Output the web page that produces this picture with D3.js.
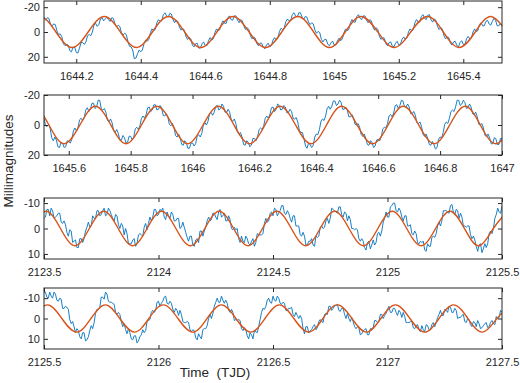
<!DOCTYPE html>
<html>
<head>
<meta charset="utf-8">
<script src="https://cdn.jsdelivr.net/npm/d3@7"></script>
<style>
body { margin: 0; background: #fff; }
text { font-family: "Liberation Sans", Arial, Helvetica, sans-serif; fill: #262626; }
.tick text { font-size: 11px; }
</style>
</head>
<body>
<script>
var w = 520,
    h = 383;

// observed light curve, regular cadence per panel (millimagnitudes)
var obs1Start = 1644.10, obs1Step = 0.005;
var obs1 = [-12,-9.5,-11.5,-11,-6.5,-4.5,-6.5,-6,-1,2,1.5,3.5,9.5,11,10,10.5,15,16,12.5,12,16.5,17,13,8.5,8.5,10,8,3,2,3,0,-5.5,-7,-4.5,-6,-10.5,-11.5,-9,-10.5,-12,
  -10,-8.5,-11.5,-11,-6.5,-4,-5.5,-4.5,0.5,2.5,1,2,7.5,11.5,12,14.5,21.5,21,17.5,14.5,16,14.5,9.5,6.5,7.5,6,0.5,-2.5,-1,-2,-7.5,-10,-8.5,-9,-14,-15.5,-13,-12,-15,-14.5,
  -10,-7.5,-9.5,-8.5,-4,-1.5,-3,-1.5,3.5,6,4.5,5.5,10.5,12,9.5,9,13,13,9.5,8,11,11,7,4.5,6.5,5.5,0.5,-2.5,-1,-2,-6.5,-9,-7,-7,-11.5,-13,-10,-9.5,-13,-13,
  -9.5,-7.5,-10,-9,-4.5,-2,-3.5,-2,3,5.5,4,5,9.5,11,9,9,12.5,13.5,10.5,9,12,11,6.5,4.5,6.5,5,-0.5,-3,-2,-3.5,-8.5,-10.5,-9,-9.5,-14,-15.5,-13,-12,-15.5,-15.5,
  -12,-10,-12.5,-12,-8,-6,-7.5,-6.5,-1.5,1,-0.5,0.5,6,8,6,6,10,11,8.5,7.5,10.5,10.5,7,5,7,5.5,0.5,-2.5,-1,-2,-7.5,-10,-8,-8,-12.5,-14,-11,-10,-13,-13,
  -9.5,-7.5,-10,-9,-4,-1.5,-3.5,-2,3.5,6,4.5,5,9.5,11,8.5,8,11.5,12,9,7.5,10.5,10,6,4,6,5,0,-2.5,-1,-2,-7.5,-10,-8,-8,-12.5,-14,-11,-10,-13.5,-14,
  -10,-8,-10.5,-9.5,-4.5,-2,-3.5,-2.5,3,5.5,4,4.5,9,10.5,8,7.5,11,12,8.5,7,10,10,5.5,3.5,5.5,5,0,-2.5,-0.5,-1,-6,-7.5,-5,-5,-8.5,-9.5,-6.5,-5.5,-8.5,-11,
  -9.5,-5,-5,-7,-4.5];

var obs2Start = 1645.52, obs2Step = 0.005;
var obs2 = [-4.5,0.5,1,-0.5,2.5,8.5,10.5,8,10,14.5,15,11.5,12,15,14.5,10.5,11,12,9.5,4,2,4,1.5,-3.5,-4.5,-3,-5,-10,-11.5,-9,-10.5,-14.5,-14.5,-11,-12,-16.5,-16.5,-11,-10,-11,
  -8.5,-3,-2,-4,-1.5,4,5,3,5.5,10,10,7,8.5,12,11.5,7.5,7.5,10,8,2.5,1.5,3,0.5,-4.5,-6,-4.5,-7,-11.5,-12,-9,-10,-13.5,-13.5,-10,-10.5,-13,-11.5,-6.5,-6,-7.5,
  -5.5,-0.5,0.5,-1,1.5,7,8,6,8.5,13,13.5,10.5,12,15.5,15.5,12,12,14,12.5,7.5,6.5,8,5.5,0,-1.5,0,-2.5,-7.5,-8.5,-6.5,-8.5,-12.5,-13,-10,-11,-14,-12.5,-8.5,-8.5,-10.5,
  -8.5,-3.5,-2.5,-4,-1,4.5,6,5,8,13,13.5,10.5,11.5,14.5,13.5,9,9,10.5,8,3,2,3,0.5,-4.5,-6,-4.5,-7,-11.5,-12,-9,-10.5,-14,-13,-10,-10.5,-13,-12,-8,-8.5,-10.5,
  -9,-4.5,-4,-5,-2,3.5,5,5,9,14,15.5,12,13,15,13.5,8,6,6.5,3,-2.5,-4,-3,-6,-11,-12.5,-10.5,-12.5,-16,-16,-13,-14,-16.5,-15,-10.5,-10.5,-12,-10,-5.5,-5.5,-7,
  -5,-0.5,0,-1,1.5,6.5,7.5,6,9,13,13.5,10.5,11.5,15,14,10,9.5,10.5,7.5,2.5,1.5,2,-1,-6,-7,-5.5,-8,-13,-13.5,-11,-13,-16.5,-16,-12,-12,-14,-12,-7.5,-7.5,-9,
  -6.5,-1.5,-1,-2,1,6.5,7.5,6,9,13,13.5,11,13,16,15,9.5,8,8.5,5,-0.5,-2,-1,-4.5,-9,-10,-9,-12,-16.5,-16.5,-13,-14,-16.5,-15,-11,-11.5,-14,-12,-7.5,-7,-8.5,
  -5.5,-0.5,0,-1,2,7,7.5,6,8.5,12.5,12.5,8.5,9,13,13,9,9];

var obs3Start = 2123.5, obs3Step = 0.00625;
var obs3 = [-4,-4.5,-7.5,-7.5,-5,-8,-7,-4,-4.5,-5,-6,-6,-2.5,-2,-3,-1.5,1.5,3,0.5,1,5.5,5,4.5,7.5,7.5,4,4,5.5,4,1,-0.5,-2.5,-0.5,-1,-5,-4,-4,-7,-7,-5,
  -5.5,-7,-8,-5,-5.5,-8,-7,-5.5,-4,-3,-5.5,-5,-1.5,0,-2,-1,2.5,0,2,6,6,6,4.5,4,7,6,2.5,2,2.5,3,-0.5,-2,0.5,-2,-4.5,-3,-4.5,-7.5,-7.5,-5,
  -5.5,-7.5,-7,-8,-4.5,-3.5,-6.5,-5,-4,-6.5,-5.5,-3,-3,-4,-4,0,-0.5,-2.5,-0.5,1.5,3.5,5,3,3,6.5,7,4.5,4,5.5,1,1,3,1,-0.5,-3,-4.5,-3,-3.5,-6,-6,
  -4.5,-3.5,-6.5,-7.5,-4.5,-5,-6,-3,-3,-5,-3.5,0,0.5,-0.5,0.5,0,4,5.5,3,5,5.5,3,4,6,6.5,5,4,7,5.5,2,2.5,2.5,2.5,2,-2,-4,-2.5,-3,-6,-6.5,
  -5,-8,-7.5,-5,-6,-7,-9,-9,-6,-5.5,-7,-6,-4,-2.5,-5,-5,-1,-1,-1,2.5,3,1.5,3,6.5,6.5,5,5,4,6.5,7,3,3.5,3,-0.5,-1,0,-0.5,-3,-4,-2,
  -4,-8,-7.5,-7,-6.5,-6,-8.5,-8.5,-5.5,-4.5,-6.5,-6,-3,-5,-3.5,0,0,0.5,0,0.5,4,5,4,5,7.5,8.5,5.5,5,8,6.5,4.5,6.5,5.5,2,1.5,3,1,-2.5,-4,-6.5,
  -4.5,-4.5,-8.5,-9,-10,-10,-7,-6.5,-8,-7,-4.5,-3,-5,-5,-1,-1,-1.5,2,2.5,1,2,5.5,6,5,5.5,5,8.5,9,6,7,7,3.5,3,3.5,2,-1,-2.5,-1,-3,-7,
  -7,-7,-6.5,-6,-9,-9.5,-6.5,-5.5,-7.5,-7,-4,-6,-4.5,-1,-1,-0.5,-1,-1,2.5,4,3,4.5,7,9,6.5,6,9.5,8,6,7.5,6,2,1,2,0,-4,-5.5,-8,-6.5,-6,
  -9];

var obs4Start = 2125.5, obs4Step = 0.00625;
var obs4 = [-13,-13,-10.5,-10,-13,-11,-10,-13,-12,-9,-8.5,-10,-9.5,-5,-5,-6,-5.5,-4.5,0.5,2.5,1.5,4,7,5,6,9,10,7,7,11,10.5,9,6,3.5,5,2,-2.5,-4.5,-4.5,-5.5,
  -10.5,-10.5,-9.5,-13,-12,-8.5,-8,-8,-7.5,-7,-3,-2,-3,-2,1.5,4,2.5,5.5,7.5,5,7,10,10.5,8.5,8.5,12,11,9,8,5.5,7,6,1.5,1,0.5,-3,-4,-3,-4,-8,
  -8.5,-6,-7.5,-8.5,-10.5,-11,-7.5,-7,-8.5,-7.5,-4.5,-3,-5,-4,-1.5,-4,-2,1.5,2,2,1.5,2,5.5,6.5,5.5,6,9.5,10.5,7.5,9,10,5.5,5,5,3.5,0,-2,0,-2.5,-6,
  -8,-10,-8,-8,-11,-9,-7.5,-9,-7.5,-4,-3,-4.5,-3,1,0.5,1,0.5,1,5,6,4.5,5.5,8.5,10,7,8,10,6,6.5,7,4,0.5,-3,-5,-4.5,-6,-9,-10,-8,-7.5,
  -11,-9,-8.5,-11,-10,-7.5,-7,-8,-7.5,-4,-4,-5,-5,-5.5,-2,-1,-3,-1.5,0,-1.5,0,5,7.5,4,4,7,6,5.5,4,3,5.5,4.5,1.5,0.5,1.5,2,-2,-2.5,-2,-6,
  -6,-4,-5,-6,-6.5,-7,-4,-3.5,-5,-5,-2,0,-2.5,0,1.5,-0.5,1.5,4,5,4,4.5,8,7.5,6,5.5,5,8,8,5,5,4.5,1,1,2,1.5,-2,-2,0,-1.5,-2.5,
  -4.5,-6,-3,-3,-5,-5,-3,-1.5,-4,-3,-0.5,-3,-1,2,2,2,1.5,1.5,4.5,5,3.5,3,5.5,6.5,3.5,5.5,6.5,3,3.5,5.5,5.5,3,2,4,2,-0.5,-2,-4,-1.5,-1.5,
  -4.5,-4,-3,-6,-5.5,-3,-3,-5,-4,0,-0.5,-0.5,-1.5,-2,1.5,2,0,0.5,3,4,1.5,2,4,1,2.5,5,4.5,3.5,2.5,2,4.5,4,2,1,2.5,3,-1,0,-0.5,-4,
  -3];

// sinusoidal fit: extrema and zero crossings
var fit1Times = [1644.037,1644.087,1644.137,1644.187,1644.237,1644.287,1644.337,1644.387,1644.436,1644.486,
  1644.536,1644.586,1644.636,1644.686,1644.736,1644.787,1644.837,1644.887,1644.936,1644.985,
  1645.034,1645.083,1645.135,1645.186,1645.237,1645.289,1645.338,1645.387,1645.437,1645.486,
  1645.536,1645.586];
var fit1Values = [0,-12.5,0,12.5,0,-12.5,0,12.5,0,-12.5,0,12.5,0,-12.5,0,12.5,
  0,-12.5,0,12.5,0,-12.5,0,12.5,0,-12.5,0,12.5,0,-12.5,0,12.5];

var fit2Times = [1645.436,1645.486,1645.536,1645.585,1645.636,1645.686,1645.736,1645.785,1645.835,1645.885,
  1645.935,1645.984,1646.034,1646.084,1646.134,1646.184,1646.234,1646.283,1646.333,1646.383,
  1646.433,1646.482,1646.532,1646.582,1646.632,1646.681,1646.731,1646.781,1646.831,1646.881,
  1646.93,1646.98,1647.03];
var fit2Values = [0,-12.5,0,12.5,0,-12.5,0,12.5,0,-12.5,0,12.5,0,-12.5,0,12.5,
  0,-12.5,0,12.5,0,-12.5,0,12.5,0,-12.5,0,12.5,0,-12.5,0,12.5,0];

var fit3Times = [2123.446,2123.509,2123.572,2123.635,2123.698,2123.761,2123.824,2123.887,2123.95,2124.013,
  2124.076,2124.139,2124.202,2124.265,2124.328,2124.391,2124.454,2124.517,2124.58,2124.643,
  2124.706,2124.769,2124.832,2124.895,2124.958,2125.021,2125.084,2125.147,2125.21,2125.273,
  2125.336,2125.399,2125.462,2125.525];
var fit3Values = [0,-6.8,0,6.8,0,-6.8,0,6.8,0,-6.8,0,6.8,0,-6.8,0,6.8,0,-6.8,
  0,6.8,0,-6.8,0,6.8,0,-6.8,0,6.8,0,-6.8,0,6.8,0,-6.8];

var fit4Times = [2125.452,2125.515,2125.578,2125.642,2125.705,2125.768,2125.831,2125.895,2125.958,2126.021,
  2126.085,2126.149,2126.212,2126.275,2126.338,2126.402,2126.465,2126.528,2126.591,2126.655,
  2126.718,2126.781,2126.845,2126.908,2126.971,2127.035,2127.098,2127.162,2127.225,2127.288,
  2127.351,2127.415,2127.478,2127.541];
var fit4Values = [0,-6.7,0,6.7,0,-6.7,0,6.7,0,-6.7,0,6.7,0,-6.7,0,6.7,0,-6.7,
  0,6.7,0,-6.7,0,6.7,0,-6.7,0,6.7,0,-6.7,0,6.7,0,-6.7];

// axis ticks
var xTicks1 = [1644.2,1644.4,1644.6,1644.8,1645,1645.2,1645.4];
var xTicks2 = [1645.6,1645.8,1646,1646.2,1646.4,1646.6,1646.8,1647];
var xTicks3 = [2123.5,2124,2124.5,2125,2125.5];
var xTicks4 = [2125.5,2126,2126.5,2127,2127.5];
var yTicks1 = [-20,0,20], yTicks2 = [-20,0,20], yTicks3 = [-10,0,10], yTicks4 = [-10,0,10];

var panels = [
  { start: obs1Start, step: obs1Step, obs: obs1, fitT: fit1Times, fitV: fit1Values,
    xDomain: [1644.1, 1645.52], xTicks: xTicks1, yDomain: [-25, 25], yTicks: yTicks1, top: 1, bottom: 63 },
  { start: obs2Start, step: obs2Step, obs: obs2, fitT: fit2Times, fitV: fit2Values,
    xDomain: [1645.52, 1647], xTicks: xTicks2, yDomain: [-20, 20], yTicks: yTicks2, top: 95, bottom: 155 },
  { start: obs3Start, step: obs3Step, obs: obs3, fitT: fit3Times, fitV: fit3Values,
    xDomain: [2123.5, 2125.5], xTicks: xTicks3, yDomain: [-12, 12], yTicks: yTicks3, top: 198, bottom: 259 },
  { start: obs4Start, step: obs4Step, obs: obs4, fitT: fit4Times, fitV: fit4Values,
    xDomain: [2125.5, 2127.5], xTicks: xTicks4, yDomain: [-15, 15], yTicks: yTicks4, top: 288, bottom: 349 }
];

var left = 44,
    right = 502;

var svg = d3.select('body')
            .append('svg')
            .attr('width', w)
            .attr('height', h);

var fmtX = d3.format('.1~f');

panels.forEach(function(p, k) {
  var x = d3.scaleLinear().domain(p.xDomain).range([left, right]);
  var y = d3.scaleLinear().domain(p.yDomain).range([p.top, p.bottom]);

  var g = svg.append('g');

  g.append('clipPath')
   .attr('id', 'clip' + k)
   .append('rect')
   .attr('x', left)
   .attr('y', p.top)
   .attr('width', right - left)
   .attr('height', p.bottom - p.top);

  var obsLine = d3.line()
                  .x(function(d, i) { return x(p.start + i * p.step); })
                  .y(function(d) { return y(d); });

  var fitLine = d3.line()
                  .x(function(d) { return x(d[0]); })
                  .y(function(d) { return y(d[1]); })
                  .curve(d3.curveNatural);

  var fitPts = p.fitT.map(function(t, i) { return [t, p.fitV[i]]; });

  var plot = g.append('g').attr('clip-path', 'url(#clip' + k + ')');

  plot.append('path')
      .datum(p.obs)
      .attr('d', obsLine)
      .style('fill', 'none')
      .style('stroke', '#0072BD')
      .style('stroke-width', 0.9);

  plot.append('path')
      .datum(fitPts)
      .attr('d', fitLine)
      .style('fill', 'none')
      .style('stroke', '#D95319')
      .style('stroke-width', 1.4);

  // inward ticks on all four sides, labels only bottom and left
  function clean(a) {
    a.select('.domain').remove();
    a.attr('font-family', null).attr('font-size', null).style('color', '#262626');
  }

  g.append('g')
   .attr('transform', 'translate(0,' + p.bottom + ')')
   .call(d3.axisBottom(x).tickValues(p.xTicks).tickFormat(fmtX)
           .tickSizeInner(-4).tickSizeOuter(0).tickPadding(9))
   .call(clean);

  g.append('g')
   .attr('transform', 'translate(0,' + p.top + ')')
   .call(d3.axisTop(x).tickValues(p.xTicks).tickFormat('')
           .tickSizeInner(-4).tickSizeOuter(0))
   .call(clean);

  g.append('g')
   .attr('transform', 'translate(' + left + ',0)')
   .call(d3.axisLeft(y).tickValues(p.yTicks).tickFormat(function(d) { return String(d); })
           .tickSizeInner(-4).tickSizeOuter(0).tickPadding(4))
   .call(clean);

  g.append('g')
   .attr('transform', 'translate(' + right + ',0)')
   .call(d3.axisRight(y).tickValues(p.yTicks).tickFormat('')
           .tickSizeInner(-4).tickSizeOuter(0))
   .call(clean);

  g.append('rect')
   .attr('x', left)
   .attr('y', p.top)
   .attr('width', right - left)
   .attr('height', p.bottom - p.top)
   .style('fill', 'none')
   .style('stroke', '#262626')
   .style('stroke-width', 1);
});

svg.append('text')
   .attr('x', 215)
   .attr('y', 376.5)
   .attr('text-anchor', 'middle')
   .style('font-size', '13.5px')
   .style('white-space', 'pre')
   .text('Time  (TJD)');

svg.append('text')
   .attr('transform', 'translate(12.5,161) rotate(-90)')
   .attr('text-anchor', 'middle')
   .style('font-size', '13.5px')
   .text('Millimagnitudes');
</script>
</body>
</html>
